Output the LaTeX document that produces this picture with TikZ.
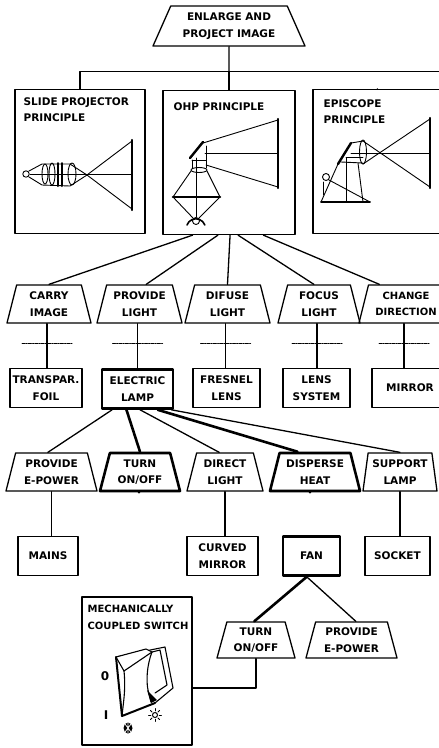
\documentclass[tikz,border=0pt]{standalone}
\usepackage{fontspec}
\setmainfont{DejaVu Sans}
\usetikzlibrary{shapes.geometric,calc}

\begin{document}
\begin{tikzpicture}[x=1pt,y=-1pt,
  line width=1.3pt, line join=round, line cap=round,
  lbl/.style={font=\bfseries\fontsize{10.5}{16.5}\selectfont, align=center, inner sep=1pt},
  fn/.style={trapezium, trapezium left angle=70, trapezium right angle=70,
    trapezium stretches body, draw, lbl, minimum height=38pt, minimum width=#1},
  part/.style={rectangle, draw, lbl, minimum height=39pt, minimum width=#1},
  principle/.style={rectangle, draw, minimum width=#1, minimum height=144pt},
  hot/.style={line width=2.6pt},
  cutmark/.style={line width=1pt, dash pattern=on 3pt off 1.2pt on 1pt off 1.2pt},
  optic/.style={line width=0.9pt},
  heavy/.style={line width=2.4pt}
]
\useasboundingbox (0,0) rectangle (439,748);
\clip (0,0) rectangle (439,748);

% ---------- main function and principles ----------
\node[fn=152, trapezium left angle=58, trapezium right angle=58, minimum height=40pt]
  (enl) at (229,26) {ENLARGE AND\\PROJECT IMAGE};

\node[principle=130] (slide) at (80,161.5) {};
\node[principle=132] (ohp)   at (229,162.5) {};
\node[principle=148] (epi)   at (387,161.5) {};

\node[lbl, align=left, anchor=north west] (slidetxt) at (22,96) {SLIDE PROJECTOR\\PRINCIPLE};
\node[lbl, align=left, anchor=north west] (ohptxt) at (172,101) {OHP PRINCIPLE};
\node[lbl, align=left, anchor=north west] (epitxt) at (322,98) {EPISCOPE\\PRINCIPLE};

\coordinate (bar) at (229,71.5);
\coordinate (barR) at (445,71.5);
\draw (enl.south) -- (bar);
\draw (slide.north) -- (slide.north |- bar) -- (barR);
\draw (ohp.north) -- (ohp.north |- bar);
\draw ($(epi.north west)+(65,0)$) -- ($(epi.north west)+(65,0)$ |- bar);

% slide projector optics
\draw[optic] (26,174) circle (3.2);
\draw[optic] (29,171) -- (42,164) -- (70,164) -- (87,175) -- (70,186) -- (42,185) -- (29,177);
\draw[optic] (45,174) ellipse (3 and 10);
\draw[optic] (52,174) ellipse (3 and 11);
\draw[line width=2pt] (58,163) -- (58,186);
\draw[line width=2pt] (62,163) -- (62,186);
\draw[optic] (72,174) ellipse (4 and 11);
\draw[optic] (30,174) -- (132,174);
\draw[optic] (87,175) -- (132,141);
\draw[optic] (87,175) -- (132,209);
\draw[heavy] (132,140) -- (132,210);

% overhead projector optics
\draw[heavy] (190,158) -- (203,142);
\draw[optic] (203,143) -- (278,120);
\draw[optic] (205,153) -- (278,153);
\draw[optic] (206,165) -- (278,187);
\draw[heavy] (278,119) -- (278,188);
\draw[optic] (192,160) -- (192,168);
\draw[optic] (206,146) -- (206,168);
\draw[optic] (192,160) -- (206,160);
\draw[optic] (199,170) ellipse (8 and 2.5);
\draw[optic] (191,171) -- (173,197);
\draw[optic] (207,171) -- (220,197);
\draw[line width=2.6pt] (173,197) -- (220,197);
\draw[optic] (173,197) -- (193,218);
\draw[optic] (220,197) -- (199,218);
\draw[optic] (196,158) -- (196,217);
\draw[optic] (196,221) circle (3.5);
\draw[line width=1.6pt] (187,225) arc (200:340:9.5);

% episcope optics
\draw[heavy] (338,164) -- (351,143);
\draw[optic] (351,143) -- (363,141);
\draw[optic] (346,157) -- (363,157);
\draw[optic] (341,162) -- (363,163);
\draw[optic] (363,152) ellipse (3.5 and 12);
\draw[optic] (363,141) -- (430,187);
\draw[optic] (363,164) -- (430,119);
\draw[optic] (351,153) -- (430,153);
\draw[heavy] (430,118) -- (430,188);
\draw[optic] (346,158) -- (346,202);
\draw[optic] (358,163) -- (363,202);
\draw[line width=1.6pt] (321,202) -- (370,202);
\draw[optic] (326,177) circle (3.5);
\draw[optic] (329,180) -- (370,202);
\draw[optic] (321,202) -- (338,164);
\draw[optic] (323,182) -- (323,195);

% ---------- functions of the OHP ----------
\node[fn=84] (carry) at (49,304)    {CARRY\\IMAGE};
\node[fn=85] (plight) at (139.5,304) {PROVIDE\\LIGHT};
\node[fn=85] (dlight) at (227.5,304) {DIFUSE\\LIGHT};
\node[fn=82] (flight) at (319,304)  {FOCUS\\LIGHT};
\node[fn=94, font=\bfseries\fontsize{10}{16.5}\selectfont] (cdir) at (406,304)  {CHANGE\\DIRECTION};

\draw ($(ohp.south west)!0.227!(ohp.south east)$) -- (carry.top side);
\draw ($(ohp.south west)!0.417!(ohp.south east)$) -- ($(plight.top left corner)!0.6!(plight.top right corner)$);
\draw ($(ohp.south west)!0.508!(ohp.south east)$) -- (dlight.top side);
\draw ($(ohp.south west)!0.568!(ohp.south east)$) -- ($(flight.top left corner)!0.42!(flight.top right corner)$);
\draw ($(ohp.south west)!0.758!(ohp.south east)$) -- ($(cdir.top left corner)!0.15!(cdir.top right corner)$);

% ---------- means ----------
\node[part=72] (foil) at (46,388)    {TRANSPAR.\\FOIL};
\node[part=71, hot] (lamp) at (137.5,389) {ELECTRIC\\LAMP};
\node[part=67] (fresnel) at (226.5,388) {FRESNEL\\LENS};
\node[part=67] (lens) at (316.5,388) {LENS\\SYSTEM};
\node[part=76] (mirror) at (410,388) {MIRROR};

\foreach \f/\m in {carry/foil, plight/lamp, dlight/fresnel, flight/lens, cdir/mirror}{
  \coordinate (top-\m) at ($(\f.south)+(-2,0)$);
  \draw (top-\m) -- (top-\m |- \m.north);
  \coordinate (cut-\m) at ($(top-\m)+(0,20)$);
  \draw[cutmark] ($(cut-\m)+(-25,0)$) -- ($(cut-\m)+(25,0)$);
}

% ---------- sub-functions of the lamp ----------
\node[fn=91] (epow) at (51.5,472)   {PROVIDE\\E-POWER};
\node[fn=80, hot] (turn) at (140,472) {TURN\\ON/OFF};
\node[fn=76] (dirl) at (225,472)    {DIRECT\\LIGHT};
\node[fn=90, hot] (heat) at (315,472) {DISPERSE\\HEAT};
\node[fn=74, trapezium left angle=79, trapezium right angle=79] (supp) at (400,472) {SUPPORT\\LAMP};

\draw ($(lamp.south west)!0.155!(lamp.south east)$) -- ($(epow.top left corner)!0.45!(epow.top right corner)$);
\draw[hot] ($(lamp.south west)!0.35!(lamp.south east)$) -- (turn.top side);
\draw ($(lamp.south west)!0.535!(lamp.south east)$) -- ($(dirl.top left corner)!0.4!(dirl.top right corner)$);
\draw[hot] ($(lamp.south west)!0.775!(lamp.south east)$) -- ($(heat.top left corner)!0.26!(heat.top right corner)$);
\draw ($(lamp.south west)!0.96!(lamp.south east)$) -- (supp.top side);

% ---------- means for the lamp ----------
\node[part=60] (mains) at (48,556)   {MAINS};
\node[part=71] (curved) at (222.5,556) {CURVED\\MIRROR};
\node[part=57, hot] (fan) at (311.5,556) {FAN};
\node[part=65] (socket) at (397.5,556) {SOCKET};

\draw (epow.south) -- (epow.south |- mains.north);
\draw (dirl.south) -- (dirl.south |- curved.north);
\draw[hot] ($(heat.south)+(-5,0)$) -- ($(heat.south)+(-5,0)$ |- fan.north);
\draw (supp.south) -- (supp.south |- socket.north);

% ---------- switch ----------
\node[rectangle, draw, hot, minimum width=110pt, minimum height=148pt] (sw) at (137,671) {};
\node[lbl, align=left, anchor=north west, font=\bfseries\fontsize{10}{17}\selectfont] (swtxt) at (86,603)
  {MECHANICALLY\\COUPLED SWITCH};
\draw[hot] ($(turn.south)+(-1,0)$) -- ($(turn.south)+(-1,0)$ |- sw.north);

% rocker drawing
\draw[line width=1.1pt] (116,657) -- (165,647) -- (173,688) -- (155,703);
\draw[line width=2pt] (116,657) -- (122,716) -- (155,703);
\draw[line width=1.1pt, fill=white] (116,657) -- (146,649) -- (152,652) -- (124,671) -- cycle;
\draw[line width=1.1pt] (124,671) .. controls (126,690) and (123,705) .. (122,716);
\draw[line width=1.1pt] (152,652) .. controls (147,665) and (146,680) .. (148,690) -- (151,702);
\draw[line width=1.1pt] (152,652) -- (160,650) -- (167,685) -- (155,693);
\fill (147,690) -- (151,703) -- (157,700) -- cycle;
\node[lbl, font=\bfseries\fontsize{12}{13}\selectfont] (zero) at (105,676) {0};
\node[lbl, font=\bfseries\fontsize{12}{13}\selectfont] (one) at (106,715) {I};
\draw[line width=1pt] (155,715) circle (2.5);
\foreach \a in {0,45,...,315}
  \draw[line width=0.9pt] ($(155,715)+(\a:4.2)$) -- ($(155,715)+(\a:6.5)$);
\fill (128,728) ellipse (4.5 and 5.5);
\draw[white, line width=0.7pt] (125,724) -- (131,732) (125,732) -- (131,724) (128,723) -- (128,733);

% ---------- sub-functions of the fan ----------
\node[fn=78, minimum height=36pt] (turn2) at (256,640) {TURN\\ON/OFF};
\node[fn=91, minimum height=36pt] (epow2) at (351.5,640) {PROVIDE\\E-POWER};

\draw[hot] ($(fan.south west)!0.42!(fan.south east)$) -- ($(turn2.top left corner)!0.47!(turn2.top right corner)$);
\draw ($(fan.south west)!0.42!(fan.south east)$) -- ($(epow2.top left corner)!0.56!(epow2.top right corner)$);
\draw (turn2.south) |- ($(sw.east)+(0,17)$);

\end{tikzpicture}
\end{document}
